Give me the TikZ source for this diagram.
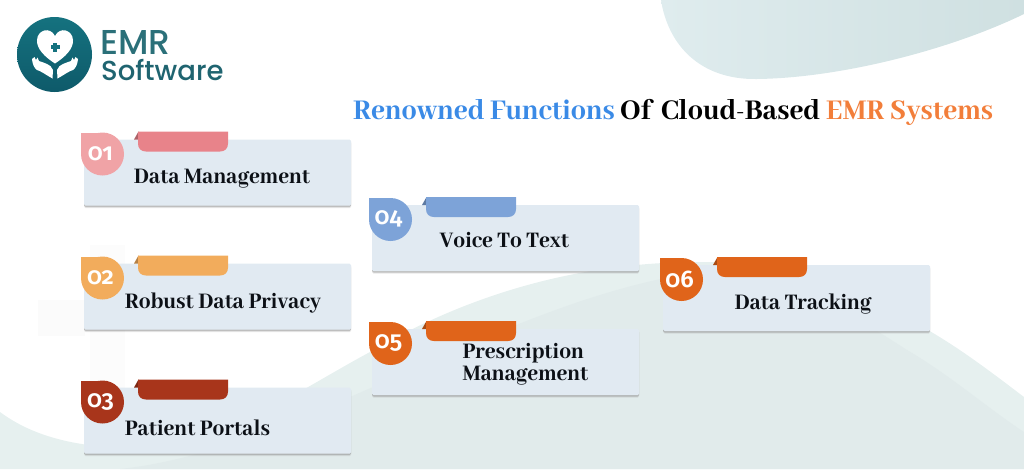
\documentclass[tikz,border=0pt]{standalone}
\usepackage{fontspec}
\setmainfont{Abhaya Libre}[BoldFont={* ExtraBold},BoldFeatures={FakeStretch=0.95}]
\newfontfamily\logofont{Poppins}[UprightFont={* Medium}]
\newfontfamily\numfont{Fira Sans}[Numbers=OldStyle,UprightFont={* SemiBold}]
\definecolor{cardbg}{HTML}{E1EAF2}
\definecolor{blobA}{HTML}{DFECEE}
\definecolor{blobB}{HTML}{CFE0E1}
\definecolor{waveA}{HTML}{E6F0EF}
\definecolor{waveB}{HTML}{E1EBEB}
\definecolor{teal}{HTML}{2B7079}
\definecolor{tealB}{HTML}{1F6470}
\definecolor{logoT}{HTML}{15727F}
\definecolor{logoB}{HTML}{0E5A6A}
\definecolor{titleblue}{HTML}{3A8AE6}
\definecolor{titleorange}{HTML}{F27E3A}
\definecolor{textcol}{HTML}{0C1016}
\definecolor{cA}{HTML}{E8838A}
\definecolor{cAn}{HTML}{F0A3A6}
\definecolor{cB}{HTML}{F2AC5C}
\definecolor{cC}{HTML}{A8351B}
\definecolor{cD}{HTML}{7DA3D8}
\definecolor{cE}{HTML}{E0641A}
\tikzset{
  x=1pt,y=-1pt,
  cardbox/.style={fill=cardbg,draw=none,rounded corners=1.5pt,minimum width=267pt,minimum height=66pt,anchor=north west,inner sep=0pt,
    preaction={fill=black!30,opacity=.3,transform canvas={yshift=-2.5pt}},
    preaction={fill=black!50,opacity=.4,transform canvas={yshift=-1.3pt}}},
  cardtext/.style={font=\bfseries\fontsize{24.5}{22}\selectfont,text=textcol,inner sep=0pt},
  numtext/.style={font=\numfont\fontsize{24}{24}\selectfont,text=white,inner sep=0pt},
  titletext/.style={font=\bfseries\fontsize{31.5}{30}\selectfont,inner sep=0pt,anchor=base west},
}
\newcommand{\cardat}[6]{% x,y,name,tab colour,number,badge colour
  \node[cardbox] (#3) at (#1,#2) {};
  \begin{scope}[shift={(#1,#2)}]
    \fill[#4!75!black] (50,0) -- (54.5,-8) -- (56,0) -- cycle;
    \fill[#4] (54,-8) -- (144,-8) -- (144,4) .. controls (144,9) and (141,12) .. (136,12) -- (62,12) .. controls (57,12) and (54,9) .. (54,4) -- cycle;
    \fill[#6] (-3,-7) rectangle (18.5,14.5);
    \fill[#6] (18.5,14.5) circle[radius=21.5];
    \node[numtext] (#3n) at (16.5,14) {#5};
  \end{scope}
}
\begin{document}
\begin{tikzpicture}
\useasboundingbox (0,0) rectangle (1024,469);
% background shapes
\shade[left color=blobA,right color=blobB] (661,0) .. controls (668,45) and (700,80) .. (757,79) .. controls (840,78) and (950,50) .. (1024,14) -- (1024,0) -- cycle;
\fill[black!1.5] (38,300) rectangle (85,336);
\fill[black!1.2] (90,245) rectangle (125,400);
\fill[waveA] (0,412) .. controls (35,438) and (80,447) .. (130,448) .. controls (220,448) and (290,395) .. (370,352) .. controls (450,305) and (560,262) .. (700,262) .. controls (800,262) and (870,295) .. (933,333) .. controls (965,352) and (995,375) .. (1024,397) -- (1024,469) -- (0,469) -- cycle;
\fill[waveB] (120,469) .. controls (300,450) and (500,300) .. (700,272) .. controls (790,272) and (860,320) .. (907,350) .. controls (950,375) and (990,410) .. (1024,432) -- (1024,469) -- cycle;
% logo
\shade[top color=logoT,bottom color=logoB] (54.5,54.5) circle[radius=37.5];
\fill[white] (55,63.5) .. controls (45,57) and (36.5,49) .. (37,40) .. controls (37.5,30) and (50,26) .. (55,36) .. controls (60,26) and (72.5,30) .. (73,40) .. controls (73.5,49) and (65,57) .. (55,63.5) -- cycle;
\fill[logoT] (53,42.5) rectangle (57,51.5);
\fill[logoT] (50.5,45) rectangle (59.5,49);
\fill[white] (32,59) -- (34.5,57) -- (36,60) -- (37.5,57.5) -- (39,61) .. controls (44,63) and (51,64) .. (53,70) -- (52.5,78.5) .. controls (46,75) and (41,71) .. (37,70) .. controls (34,68) and (32.5,64) .. (32,59) -- cycle;
\fill[white] (78,59) -- (75.5,57) -- (74,60) -- (72.5,57.5) -- (71,61) .. controls (66,63) and (59,64) .. (57,70) -- (57.5,78.5) .. controls (64,75) and (69,71) .. (73,70) .. controls (76,68) and (77.5,64) .. (78,59) -- cycle;
\node[font=\logofont\fontsize{34.5}{34}\selectfont,text=teal,anchor=base west,inner sep=0pt,text depth=0pt] (logoA) at (100,54.5) {EMR};
\node[font=\logofont\fontsize{27.5}{26}\selectfont,text=tealB,anchor=base west,inner sep=0pt,text height=19pt] (logoB) at (101,80.5) {Software};
% title
\node[titletext,text=titleblue] (t1) at (353,119) {Renowned Functions};
\node[titletext,text=black] (t2) at (620,119) {Of};
\node[titletext,text=black] (t3) at (661,119) {Cloud-Based};
\node[titletext,text=titleorange] (t4) at (826,119) {EMR Systems};
% cards
\cardat{84}{139.5}{c1}{cA}{01}{cAn}
\cardat{84}{263.5}{c2}{cB}{02}{cB}
\cardat{84}{387.5}{c3}{cC}{03}{cC}
\cardat{372}{205}{c4}{cD}{04}{cD}
\cardat{372}{329}{c5}{cE}{05}{cE}
\cardat{663}{265}{c6}{cE}{06}{cE}
\node[cardtext,anchor=base] (l1) at (222,183) {Data Management};
\node[cardtext,anchor=base] (l2) at (223,308) {Robust Data Privacy};
\node[cardtext,anchor=base] (l3) at (197.5,435) {Patient Portals};
\node[cardtext,anchor=base] (l4) at (504.5,247) {Voice To Text};
\node[cardtext,align=left] (l5) at (525.5,364.5) {Prescription\\Management};
\node[cardtext,anchor=base] (l6) at (803,309) {Data Tracking};
\end{tikzpicture}
\end{document}
